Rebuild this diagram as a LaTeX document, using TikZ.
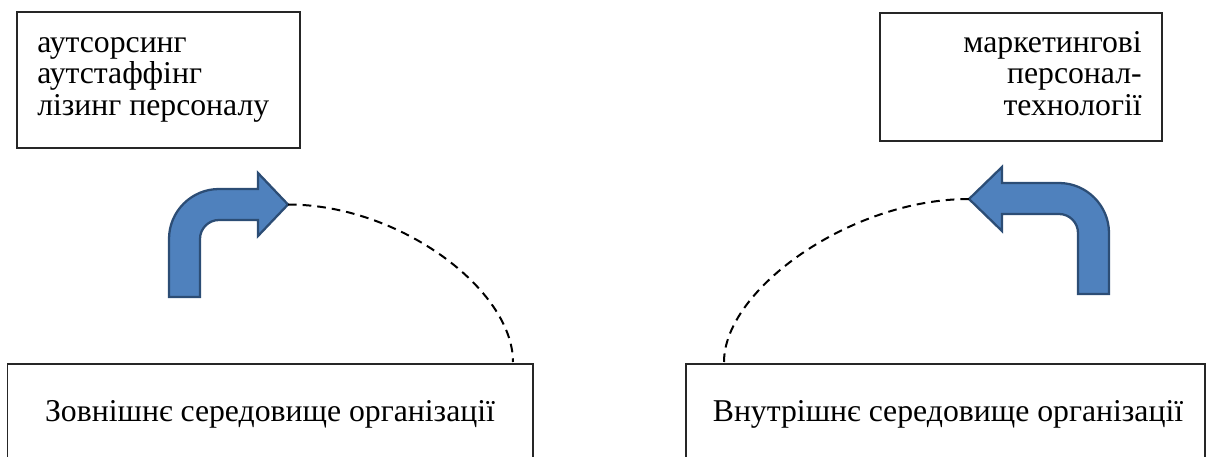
\documentclass[tikz,border=0pt]{standalone}
\usepackage{fontspec}
\setmainfont{Liberation Serif}
\begin{document}
\begin{tikzpicture}[x=0.75pt,y=-0.75pt,
  frame/.style={draw=black!85, line width=0.9pt, rectangle, inner sep=0pt},
  label/.style={font=\fontsize{23.8}{23.6}\selectfont, inner sep=0pt},
  bent/.style={fill=arrowblue, draw=arrowedge, line width=1.7pt, line join=miter},
  link/.style={draw=black, line width=1.5pt, dash pattern=on 6.5pt off 4.5pt}
]
\definecolor{arrowblue}{HTML}{4F81BD}
\definecolor{arrowedge}{HTML}{2C4D75}
\useasboundingbox (0,0) rectangle (1207,457);
\clip (0,0) rectangle (1207,457);

% upper boxes with the personnel technologies
\node[frame, minimum width=212.25pt, minimum height=102pt] (outtech) at (158.5,80) {};
\node[label, align=left, anchor=base west] (outtext) at (37,115)
  {аутсорсинг\\аутстаффінг\\лізинг персоналу};
\node[frame, minimum width=211.5pt, minimum height=96pt] (intech) at (1021,77) {};
\node[label, align=right, anchor=base east] (intext) at (1142,115)
  {маркетингові\\персонал-\\технології};

% lower boxes with the environments (cut by the lower edge)
\node[frame, minimum width=394.1pt, minimum height=84pt] (extenv) at (270.25,420) {};
\node[label, anchor=base] (exttext) at (270,421) {Зовнішнє середовище організації};
\node[frame, minimum width=389.25pt, minimum height=84pt] (intenv) at (945.5,420) {};
\node[label, anchor=base] (inttext) at (948,421) {Внутрішнє середовище організації};

% bent arrow pointing right
\draw[bent] (169,297) -- (169,239)
  .. controls (169,211.4) and (191.4,189) .. (219,189)
  -- (258,189) -- (258,173) -- (288,204.5) -- (258,236) -- (258,220)
  -- (219,220) .. controls (208.5,220) and (200,228.5) .. (200,239)
  -- (200,297) -- cycle;
\coordinate (lefttip) at (288,204.5);

% bent arrow pointing left
\draw[bent] (1109,294) -- (1109,233)
  .. controls (1109,205.4) and (1086.4,183) .. (1059,183)
  -- (1002,183) -- (1002,167) -- (969,199) -- (1002,231) -- (1002,214)
  -- (1059,214) .. controls (1069.5,214) and (1078,222.5) .. (1078,233)
  -- (1078,294) -- cycle;
\coordinate (righttip) at (969,199);

% dashed links from the arrows to the environments
\coordinate (extend) at (513,362);
\coordinate (intend) at (724,362);
\draw[link] (lefttip) .. controls (400,204.5) and (513,290) .. (extend);
\draw[link] (righttip) .. controls (850,199) and (724,290) .. (intend);
\end{tikzpicture}
\end{document}
